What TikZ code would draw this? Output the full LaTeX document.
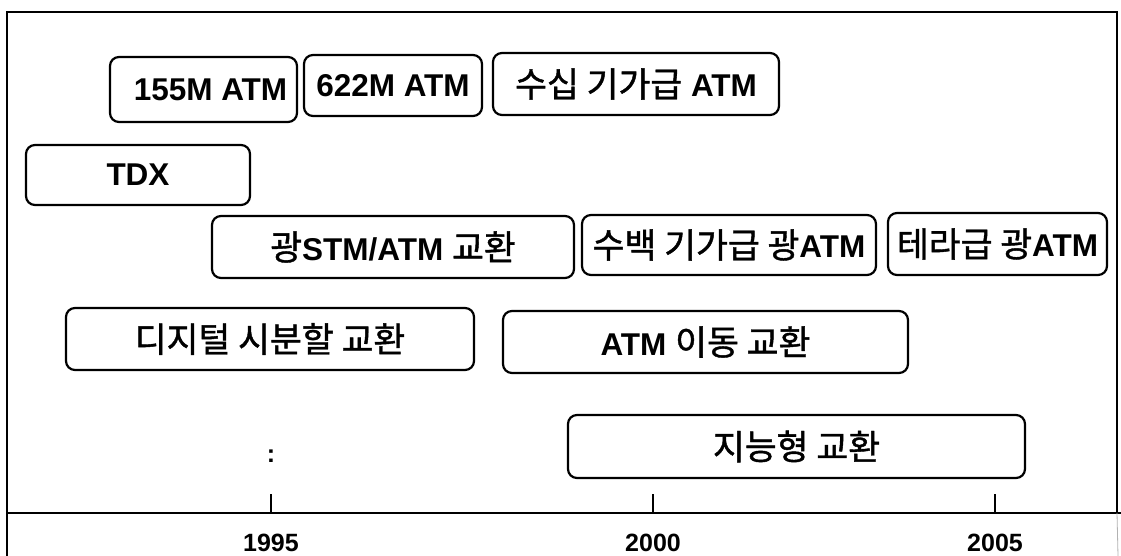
\documentclass[tikz,border=0pt]{standalone}
\usepackage{fontspec}
\setmainfont{Liberation Sans}
\newfontfamily\ko[Scale=1.1,BoldFont={Noto Sans CJK KR},BoldFeatures={FakeBold=1.2}]{Noto Sans CJK KR}
\tikzset{
  stagebox/.style={draw, line width=2.2pt, rounded corners=9pt, inner sep=0pt,
    font=\fontsize{31.5}{33}\selectfont\bfseries},
  frameline/.style={line width=2.8pt},
  tickline/.style={line width=2.4pt},
  yearlabel/.style={font=\fontsize{25}{27}\selectfont\bfseries, inner sep=0pt}
}
\begin{document}
\begin{tikzpicture}[x=1pt,y=-1pt]
\useasboundingbox (0,0) rectangle (1121,556);
% frame
\coordinate (tl) at (7,12);
\coordinate (tr) at (1117,12);
\coordinate (bl) at (7,556);
\coordinate (al) at (7,513);
\coordinate (ar) at (1121,513);
\coordinate (rb) at (1117,513);
\coordinate (rbb) at (1118,556);
\draw[frameline] (bl) -- (tl) -- (tr) -- (rb);
\draw[frameline] (al) -- (ar);
\draw[line width=0.8pt, gray!60] (rb) -- (rbb);
% boxes
\node[stagebox, minimum width=187pt, minimum height=65pt] (a155) at (203.5,89.5) {\hspace*{14pt}155M ATM};
\node[stagebox, minimum width=178pt, minimum height=61pt] (a622) at (393,85.5) {622M ATM};
\node[stagebox, minimum width=286pt, minimum height=62pt] (asip) at (636,84) {{\ko 수십 기가급} ATM};
\node[stagebox, minimum width=224pt, minimum height=60pt] (tdx) at (138,175) {TDX};
\node[stagebox, minimum width=362pt, minimum height=62pt] (gstm) at (393,247) {{\ko 광}STM/ATM {\ko 교환}};
\node[stagebox, minimum width=294pt, minimum height=60pt] (sbaek) at (729,245) {{\ko 수백 기가급 광}ATM};
\node[stagebox, minimum width=219pt, minimum height=62pt] (tera) at (997.5,244) {{\ko 테라급 광}ATM};
\node[stagebox, minimum width=408pt, minimum height=62pt] (digi) at (270,339) {{\ko 디지털 시분할 교환}};
\node[stagebox, minimum width=405pt, minimum height=62pt] (mob) at (705.5,342) {ATM {\ko 이동 교환}};
\node[stagebox, minimum width=457pt, minimum height=63pt] (intel) at (796.5,446.5) {{\ko 지능형 교환}};
% ticks and years
\coordinate (t1) at (271,513);
\coordinate (t2) at (653,513);
\coordinate (t3) at (995,513);
\draw[tickline] (t1) -- ++(0,-19);
\draw[tickline] (t2) -- ++(0,-19);
\draw[tickline] (t3) -- ++(0,-19);
\node[yearlabel] (y1) at (271,543) {1995};
\node[yearlabel] (y2) at (653,543) {2000};
\node[yearlabel] (y3) at (995,543) {2005};
\node[yearlabel] (colon) at (271,456) {:};
\end{tikzpicture}
\end{document}
